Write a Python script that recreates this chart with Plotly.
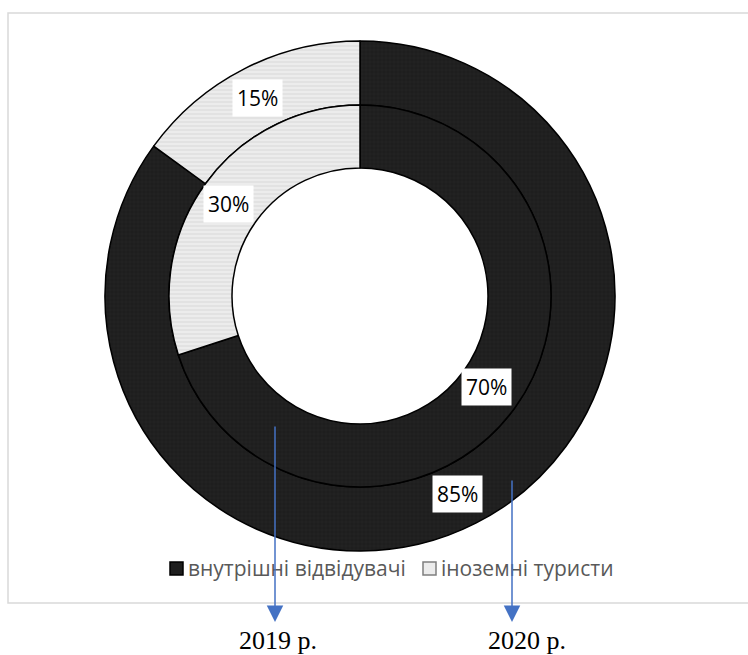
import plotly.graph_objects as go

W, H = 748, 655

categories = ["внутрішні відвідувачі", "іноземні туристи"]
values_2020 = [85, 15]   # outer ring
values_2019 = [70, 30]   # inner ring
year_labels = ["2019 р.", "2020 р."]

dark = "#1e1e1e"
light_bg = "#ececec"
light_fg = "#c8c8c8"

def px_x(x):
    return x / W

def px_y(y):
    return 1 - y / H

cx, cy = 360, 296
R_out, R_mid, R_in = 255, 191, 128

common_marker = dict(
    colors=[dark, light_bg],
    line=dict(color="#000000", width=1.5),
    pattern=dict(shape=["+", "-"], fgcolor=["#2c2c2c", light_fg],
                 bgcolor=[dark, light_bg], size=4, solidity=0.15),
)

fig = go.Figure()
fig.add_trace(go.Pie(
    labels=categories, values=values_2020, hole=R_mid / R_out,
    sort=False, direction="clockwise", rotation=0,
    textinfo="none", hoverinfo="label+percent",
    marker=common_marker,
    domain=dict(x=[px_x(cx - R_out), px_x(cx + R_out)],
                y=[px_y(cy + R_out), px_y(cy - R_out)]),
    showlegend=False,
))
fig.add_trace(go.Pie(
    labels=categories, values=values_2019, hole=R_in / R_mid,
    sort=False, direction="clockwise", rotation=0,
    textinfo="none", hoverinfo="label+percent",
    marker=common_marker,
    domain=dict(x=[px_x(cx - R_mid), px_x(cx + R_mid)],
                y=[px_y(cy + R_mid), px_y(cy - R_mid)]),
    showlegend=False,
))

annotations = []
label_pos = [
    (values_2020[1], 257, 98),
    (values_2019[1], 228, 204),
    (values_2019[0], 486, 387),
    (values_2020[0], 457, 494),
]
for v, x, y in label_pos:
    annotations.append(dict(
        x=px_x(x), y=px_y(y), xref="paper", yref="paper",
        xanchor="center", yanchor="middle",
        text=f"{v}%", showarrow=False,
        font=dict(family="Open Sans", size=21, color="#000000"),
        bgcolor="#ffffff", borderpad=4,
    ))

# custom legend
shapes = [dict(type="rect", xref="paper", yref="paper",
               x0=px_x(8), x1=1.05, y0=px_y(603), y1=px_y(13),
               line=dict(color="#d9d9d9", width=1.5), layer="below")]
legend_items = [(categories[0], 170, dark, "#000000"),
                (categories[1], 423, light_bg, "#7f7f7f")]
for lab, x, fill, edge in legend_items:
    shapes.append(dict(type="rect", xref="paper", yref="paper",
                       x0=px_x(x), x1=px_x(x + 13), y0=px_y(575), y1=px_y(562),
                       fillcolor=fill, line=dict(color=edge, width=1.5)))
    annotations.append(dict(
        x=px_x(x + 16), y=px_y(568), xref="paper", yref="paper",
        xanchor="left", yanchor="middle", text=lab, showarrow=False,
        font=dict(family="Open Sans", size=21, color="#595959"),
    ))

arrow_color = "#4472C4"
arrows = [(year_labels[0], 275, 425, 622, 278), (year_labels[1], 512, 479, 622, 527)]
for lab, x, y0, y1, tx in arrows:
    annotations.append(dict(
        x=px_x(x), y=px_y(y1), xref="paper", yref="paper",
        ax=0, ay=-(y1 - y0), axref="pixel", ayref="pixel",
        showarrow=True, arrowhead=2, arrowsize=2.2, arrowwidth=1.5,
        arrowcolor=arrow_color, text="",
    ))
    annotations.append(dict(
        x=px_x(tx), y=px_y(640), xref="paper", yref="paper",
        xanchor="center", yanchor="middle",
        text=lab, showarrow=False,
        font=dict(family="Liberation Serif", size=26, color="#000000"),
    ))

fig.update_layout(
    width=W, height=H,
    margin=dict(l=0, r=0, t=0, b=0),
    paper_bgcolor="#ffffff",
    plot_bgcolor="#ffffff",
    showlegend=False,
    shapes=shapes,
    annotations=annotations,
)

fig.write_html("out.html", config={"displayModeBar": False},
               post_script="document.body.style.margin='0';document.body.style.overflow='hidden';")
